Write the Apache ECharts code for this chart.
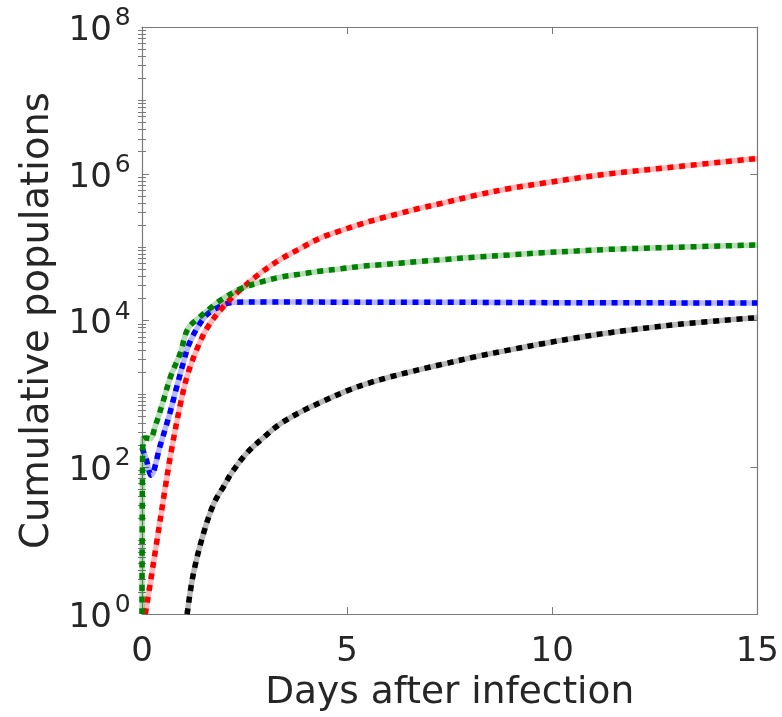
<!DOCTYPE html>
<html><head><meta charset="utf-8">
<script src="https://cdn.jsdelivr.net/npm/echarts@6/dist/echarts.min.js"></script>
<style>html,body{margin:0;padding:0;background:#fff}#c{width:782px;height:717px}</style>
</head><body><div id="c"></div>
<script>
// ---- data ----
const redDays = [0.08, 0.2, 0.35, 0.56, 0.7, 0.95, 1.12, 1.36, 1.61, 2.0, 2.4, 2.87, 3.36, 3.85, 4.33, 4.82, 5.31, 5.79, 6.28, 6.77, 7.33, 8.16, 8.96, 9.76, 10.59, 11.4, 13.1, 15];
const redVals = [1, 2.6, 8.9, 50, 151, 794, 1905, 4365, 8318, 15850, 26300, 43650, 67600, 95500, 132000, 166000, 204000, 245000, 288000, 339000, 398000, 513000, 631000, 741000, 871000, 1000000, 1260000, 1620000];

const greenDays = [0, 0.02, 0.1, 0.2, 0.32, 0.5, 0.7, 0.93, 1.12, 1.41, 1.65, 1.92, 2.39, 2.87, 3.36, 3.85, 4.33, 4.82, 5.31, 5.79, 6.28, 6.77, 7.33, 8.16, 8.96, 9.76, 10.59, 11.4, 13.1, 15];
const greenVals = [1, 240, 250, 245, 360, 740, 1740, 3550, 7760, 11200, 14500, 19000, 26900, 33100, 38900, 42900, 47000, 50500, 54600, 57500, 60500, 64000, 67600, 73300, 78300, 84100, 88700, 93300, 100000, 107000];

const blueDays = [0, 0.1, 0.22, 0.44, 0.68, 0.83, 1.0, 1.17, 1.53, 1.85, 2.26, 3, 5, 7, 9, 11, 13, 15];
const blueVals = [185, 130, 78, 195, 550, 1150, 2570, 5130, 11200, 15100, 17800, 17900, 17800, 17800, 17600, 17500, 17400, 17300];

const blackDays = [1.1, 1.25, 1.5, 1.75, 2.0, 2.19, 2.56, 2.95, 3.36, 3.92, 4.41, 4.99, 5.48, 5.97, 6.53, 6.94, 7.33, 8.16, 8.96, 9.76, 10.59, 11.4, 13.1, 15];
const blackVals = [1, 3.5, 12.6, 32, 56, 85, 158, 251, 389, 589, 794, 1100, 1380, 1660, 1995, 2265, 2540, 3240, 3980, 4840, 5820, 6840, 8910, 10960];

const xTicks = [0, 5, 10, 15];
const yMajorTicks = [1, 1e2, 1e4, 1e6, 1e8];
const yTickExponents = ['0', '2', '4', '6', '8'];
const yMinorMantissas = [2, 3, 4, 5, 6, 7, 8, 9, 10];
const yDecades = [1, 1e1, 1e2, 1e3, 1e4, 1e5, 1e6, 1e7];

// ---- build ----
const yMinorTicks = [];
yDecades.forEach(d => yMinorMantissas.forEach(m => { const v = d * m; if (yMajorTicks.indexOf(v) < 0) yMinorTicks.push(v); }));

const FONT = 'DejaVu Sans';
const TXT = '#262626';
const AX = '#7a7a7a';

function pairs(d, v) { return d.map((x, i) => [x, v[i]]); }

const defs = [
  { name: 'black', color: '#000000', d: blackDays, v: blackVals },
  { name: 'blue', color: '#0000ff', d: blueDays, v: blueVals },
  { name: 'red', color: '#ff0000', d: redDays, v: redVals },
  { name: 'green', color: '#008000', d: greenDays, v: greenVals }
];
const series = [];
defs.forEach((s, i) => {
  const data = pairs(s.d, s.v);
  series.push({ type: 'line', name: s.name + '-u', data, showSymbol: false, smooth: 0.35, silent: true, z: 2 + i * 2,
    lineStyle: { color: s.color, width: 5.5, opacity: 0.28 } });
  series.push({ type: 'line', name: s.name, data, showSymbol: false, smooth: 0.35, z: 3 + i * 2,
    lineStyle: { color: s.color, width: 5.5, type: [6, 5.7], cap: 'butt' } });
});

const yLabelRich = {
  b: { fontFamily: FONT, fontSize: 34, color: TXT, lineHeight: 34, verticalAlign: 'bottom' },
  s: { fontFamily: FONT, fontSize: 25, color: TXT, lineHeight: 24, verticalAlign: 'top', padding: [0, 0, 0, 3] },
  h: { fontSize: 1, lineHeight: 42 }
};

const option = {
  backgroundColor: '#ffffff',
  animation: false,
  grid: { left: 142, right: 24, top: 27, bottom: 97, containLabel: false },
  xAxis: [
    { type: 'value', min: 0, max: 15, interval: 5, position: 'bottom',
      axisLine: { show: true, onZero: false, lineStyle: { color: AX, width: 1.2 } },
      axisTick: { show: true, inside: true, length: 7, lineStyle: { color: AX } },
      axisLabel: { fontFamily: FONT, fontSize: 34, color: TXT, margin: 21,
        formatter: v => xTicks.indexOf(v) >= 0 ? String(v) : '' },
      splitLine: { show: false },
      name: 'Days after infection', nameLocation: 'middle', nameGap: 59,
      nameTextStyle: { fontFamily: FONT, fontSize: 37.5, color: TXT } },
    { type: 'value', min: 0, max: 15, interval: 5, position: 'top',
      axisLine: { show: true, onZero: false, lineStyle: { color: AX, width: 1.2 } },
      axisTick: { show: true, inside: true, length: 7, lineStyle: { color: AX } },
      axisLabel: { show: false }, splitLine: { show: false } }
  ],
  yAxis: [
    { type: 'log', logBase: 10, min: 1, max: 1e8, position: 'left', offset: 0,
      axisLine: { show: true, onZero: false, lineStyle: { color: AX, width: 1.2 } },
      axisTick: { show: true, inside: true, length: 7, customValues: yMajorTicks, lineStyle: { color: AX } },
      axisLabel: { show: true, customValues: yMajorTicks, margin: 11,
        formatter: v => { const i = yMajorTicks.indexOf(v); const e = i >= 0 ? yTickExponents[i] : ''; return '{b|10}{s|' + e + '}{h| }'; },
        rich: yLabelRich },
      splitLine: { show: false },
      name: 'Cumulative populations', nameLocation: 'middle', nameGap: 80,
      nameTextStyle: { fontFamily: FONT, fontSize: 38.5, color: TXT } },
    { type: 'log', logBase: 10, min: 1, max: 1e8, position: 'left', offset: 0,
      axisLine: { show: false },
      axisTick: { show: true, inside: true, length: 4, customValues: yMinorTicks, lineStyle: { color: AX } },
      axisLabel: { show: false }, splitLine: { show: false } },
    { type: 'log', logBase: 10, min: 1, max: 1e8, position: 'right', offset: 0,
      axisLine: { show: true, onZero: false, lineStyle: { color: AX, width: 1.2 } },
      axisTick: { show: true, inside: true, length: 7, customValues: yMajorTicks, lineStyle: { color: AX } },
      axisLabel: { show: false }, splitLine: { show: false } },
    { type: 'log', logBase: 10, min: 1, max: 1e8, position: 'right', offset: 0,
      axisLine: { show: false },
      axisTick: { show: true, inside: true, length: 4, customValues: yMinorTicks, lineStyle: { color: AX } },
      axisLabel: { show: false }, splitLine: { show: false } }
  ],
  series
};
const chart = echarts.init(document.getElementById('c'), null, { renderer: 'canvas' });
chart.setOption(option);
</script>
</body></html>
